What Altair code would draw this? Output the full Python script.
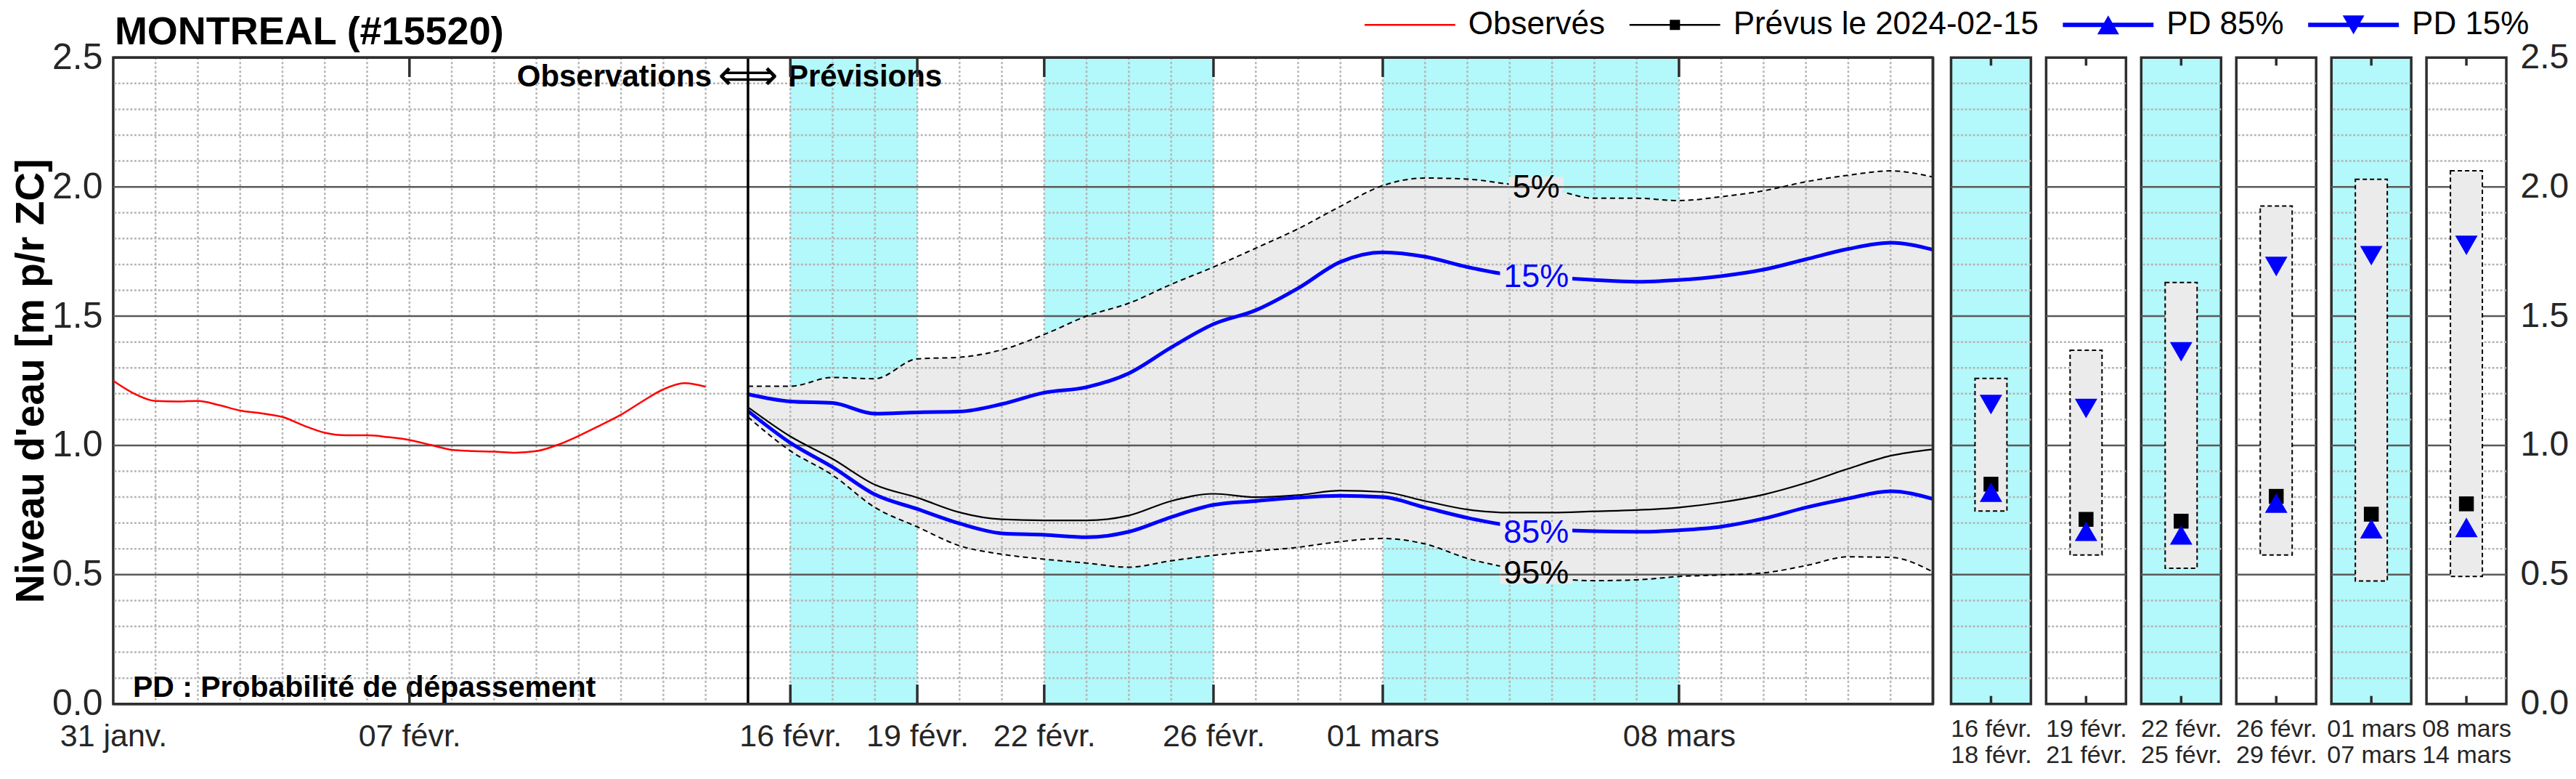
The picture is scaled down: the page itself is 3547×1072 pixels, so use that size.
import altair as alt
import pandas as pd

FONT = "Liberation Sans, Arial, Helvetica, sans-serif"
ARROW_FONT = "DejaVu Sans, Liberation Sans, sans-serif"

chart_title = "MONTREAL (#15520)"

# ---------------- observed levels (red) ----------------
obs_time = ["2024-01-31T00:00Z", "2024-01-31T12:00Z", "2024-02-01T00:00Z", "2024-02-01T12:00Z",
            "2024-02-02T00:00Z", "2024-02-02T12:00Z", "2024-02-03T00:00Z", "2024-02-03T12:00Z",
            "2024-02-04T00:00Z", "2024-02-04T12:00Z", "2024-02-05T00:00Z", "2024-02-05T12:00Z",
            "2024-02-06T00:00Z", "2024-02-06T12:00Z", "2024-02-07T00:00Z", "2024-02-07T12:00Z",
            "2024-02-08T00:00Z", "2024-02-08T12:00Z", "2024-02-09T00:00Z", "2024-02-09T12:00Z",
            "2024-02-10T00:00Z", "2024-02-10T12:00Z", "2024-02-11T00:00Z", "2024-02-11T12:00Z",
            "2024-02-12T00:00Z", "2024-02-12T12:00Z", "2024-02-13T00:00Z", "2024-02-13T12:00Z",
            "2024-02-14T00:00Z"]
obs_level = [1.250, 1.200, 1.172, 1.170, 1.172, 1.156, 1.135, 1.124, 1.110, 1.077,
             1.049, 1.039, 1.039, 1.032, 1.021, 1.002, 0.983, 0.978, 0.976, 0.972,
             0.978, 1.002, 1.037, 1.077, 1.119, 1.170, 1.217, 1.241, 1.227]

# ---------------- forecast issued 2024-02-15 ----------------
fc_date = ["2024-02-15", "2024-02-16", "2024-02-17", "2024-02-18", "2024-02-19", "2024-02-20",
           "2024-02-21", "2024-02-22", "2024-02-23", "2024-02-24", "2024-02-25", "2024-02-26",
           "2024-02-27", "2024-02-28", "2024-02-29", "2024-03-01", "2024-03-02", "2024-03-03",
           "2024-03-04", "2024-03-05", "2024-03-06", "2024-03-07", "2024-03-08", "2024-03-09",
           "2024-03-10", "2024-03-11", "2024-03-12", "2024-03-13", "2024-03-14"]
p05 = [1.229, 1.229, 1.263, 1.258, 1.335, 1.341, 1.370, 1.429, 1.500, 1.550, 1.623, 1.690,
       1.763, 1.838, 1.925, 2.005, 2.034, 2.030, 2.010, 1.990, 1.956, 1.956, 1.947, 1.962,
       1.985, 2.020, 2.045, 2.062, 2.038]
p15 = [1.198, 1.170, 1.164, 1.123, 1.128, 1.131, 1.160, 1.204, 1.225, 1.279, 1.379, 1.469,
       1.523, 1.608, 1.710, 1.747, 1.730, 1.690, 1.660, 1.650, 1.640, 1.633, 1.640, 1.655,
       1.680, 1.720, 1.760, 1.784, 1.757]
fc = [1.148, 1.035, 0.948, 0.848, 0.798, 0.741, 0.714, 0.710, 0.710, 0.729, 0.785, 0.813,
      0.800, 0.808, 0.825, 0.820, 0.785, 0.752, 0.740, 0.740, 0.745, 0.750, 0.760, 0.780,
      0.810, 0.855, 0.910, 0.960, 0.985]
p85 = [1.133, 1.010, 0.916, 0.810, 0.754, 0.698, 0.660, 0.654, 0.645, 0.666, 0.723, 0.770,
       0.785, 0.798, 0.805, 0.800, 0.760, 0.720, 0.690, 0.675, 0.668, 0.666, 0.672, 0.686,
       0.717, 0.760, 0.795, 0.823, 0.793]
p95 = [1.110, 0.979, 0.885, 0.760, 0.685, 0.612, 0.579, 0.560, 0.545, 0.529, 0.554, 0.575,
       0.591, 0.606, 0.628, 0.640, 0.619, 0.563, 0.525, 0.488, 0.477, 0.480, 0.493, 0.499,
       0.507, 0.535, 0.569, 0.567, 0.511]

forecast_issue = "2024-02-15"
band_start = ["2024-02-16", "2024-02-22", "2024-03-01"]
band_end = ["2024-02-19", "2024-02-26", "2024-03-08"]
major_dates = ["2024-01-31", "2024-02-07", "2024-02-16", "2024-02-19", "2024-02-22",
               "2024-02-26", "2024-03-01", "2024-03-08"]
domain_dates = ["2024-01-31", "2024-03-14"]
day_grid = pd.date_range("2024-02-01", "2024-03-13").strftime("%Y-%m-%d").tolist()

# curve labels
pct_text = ["5%", "15%", "85%", "95%"]
pct_level = [1.997, 1.652, 0.663, 0.506]
pct_color = ["black", "blue", "blue", "black"]
pct_at = ["2024-03-04T15:00Z"] * 4
pct_from = ["2024-03-03T23:30Z", "2024-03-03T18:30Z", "2024-03-03T18:30Z", "2024-03-03T18:30Z"]
pct_to = ["2024-03-05T06:30Z", "2024-03-05T11:30Z", "2024-03-05T11:30Z", "2024-03-05T11:30Z"]
pct_grid = [2.0, None, None, 0.5]

# ---------------- period panels ----------------
panel_from = ["16 févr.", "19 févr.", "22 févr.", "26 févr.", "01 mars", "08 mars"]
panel_to = ["18 févr.", "21 févr.", "25 févr.", "29 févr.", "07 mars", "14 mars"]
panel_max05 = [1.259, 1.368, 1.630, 1.926, 2.029, 2.062]
panel_min95 = [0.746, 0.576, 0.525, 0.576, 0.476, 0.493]
panel_p15 = [1.158, 1.143, 1.362, 1.692, 1.734, 1.774]
panel_fc = [0.850, 0.714, 0.707, 0.803, 0.734, 0.774]
panel_p85 = [0.819, 0.668, 0.654, 0.777, 0.678, 0.683]
panel_shaded = [True, False, True, False, True, False]

legend_labels = ["Observés", "Prévus le 2024-02-15", "PD 85%", "PD 15%"]

y_labels = [0.0, 0.5, 1.0, 1.5, 2.0, 2.5]
y_major = [0.5, 1.0, 1.5, 2.0]
y_minor = [0.1, 0.2, 0.3, 0.4, 0.6, 0.7, 0.8, 0.9, 1.1, 1.2, 1.3, 1.4,
           1.6, 1.7, 1.8, 1.9, 2.1, 2.2, 2.3, 2.4]
y_frame = [0.0, 2.5]

# ---------------- styles ----------------
CYAN = "#b3f8fa"
BAND = "#ebebeb"
MINOR = "#b5b5b5"
MAJOR = "#5a5a5a"
FRAME = "#2e2e2e"
BLUE = "#0000ff"
RED = "#ff0000"
LABEL = "#262626"
W, H, PW = 2507, 890, 110

legend_colors = [RED, "#000000", BLUE, BLUE]
# symbol unit = 15 px (symbolSize 900); each path runs 125 px to the right of the entry start
legend_paths = [
    "M-1,-0.08H7.33V0.08H-1Z",
    "M-1,-0.08H7.33V0.08H-1Z M2.7,-0.47H3.64V0.47H2.7Z",
    "M-1,-0.2H7.33V0.2H-1Z M3.167,-0.87L4.167,0.87H2.167Z",
    "M-1,-0.2H7.33V0.2H-1Z M3.167,0.87L2.167,-0.87H4.167Z",
]


def dt(s):
    y, m, d = (int(v) for v in s.split("-"))
    return alt.DateTime(year=y, month=m, date=d, utc=True)


XS = alt.Scale(type="utc", domain=[dt(domain_dates[0]), dt(domain_dates[1])])
YS = alt.Scale(domain=[0, 2.5], nice=False, zero=False)

x_axis = alt.Axis(
    values=[dt(s) for s in major_dates],
    labelExpr="(utcdate(datum.value) < 10 ? '0' : '') + utcdate(datum.value) + ' ' + "
              "['janv.', 'févr.', 'mars'][utcmonth(datum.value)]",
    grid=False, ticks=False, domain=False, labelFlush=False, labelOverlap=False,
    labelFont=FONT, labelFontSize=43, labelColor=LABEL, labelPadding=24, title=None)
y_axis = alt.Axis(
    values=y_labels, format=".1f", grid=False, ticks=False, domain=False,
    labelFont=FONT, labelFontSize=50, labelColor=LABEL, labelPadding=15,
    title="Niveau d'eau [m p/r ZC]", titleFont=FONT, titleFontSize=55,
    titleFontWeight="bold", titleColor="black", titlePadding=0)


def xf(field):
    return alt.X(field, type="temporal", scale=XS, axis=x_axis)


def yf(field):
    return alt.Y(field, type="quantitative", scale=YS, axis=y_axis)


def yd(v):
    return alt.YDatum(v, type="quantitative", scale=YS, axis=y_axis)


fc_df = pd.DataFrame({"date": fc_date, "p05": p05, "p15": p15, "fc": fc, "p85": p85, "p95": p95})
obs_df = pd.DataFrame({"date": obs_time, "level": obs_level})
band_df = pd.DataFrame({"start": band_start, "end": band_end})
day_df = pd.DataFrame({"date": day_grid})
tick_df = pd.DataFrame({"date": major_dates[1:]})
minor_df = pd.DataFrame({"v": y_minor})
major_df = pd.DataFrame({"v": y_major})
frame_df = pd.DataFrame({"v": y_frame})
end_df = pd.DataFrame({"date": [domain_dates[1]]})
issue_df = pd.DataFrame({"date": [forecast_issue]})
start_df = pd.DataFrame({"date": [major_dates[0]]})
pct_df = pd.DataFrame({"text": pct_text, "level": pct_level, "color": pct_color,
                       "at": pct_at, "lo": pct_from, "hi": pct_to, "grid": pct_grid})
legend_df = pd.DataFrame({"serie": legend_labels})

LEG = alt.Legend(
    title=None, orient="none", legendX=1717, legendY=-67, direction="horizontal",
    symbolSize=900, symbolStrokeWidth=0, symbolOpacity=1, symbolOffset=0,
    labelFont=FONT, labelFontSize=44, labelColor="black", labelOffset=106,
    labelLimit=2000, columnPadding=26, padding=0)

layers = [
    alt.Chart(band_df).mark_rect(color=CYAN).encode(
        x=xf("start:T"), x2="end:T", y=yd(0), y2=alt.datum(2.5)),
    alt.Chart(fc_df).mark_area(color=BAND, interpolate="monotone").encode(
        x=xf("date:T"), y=yf("p95:Q"), y2="p05:Q"),
    alt.Chart(day_df).mark_rule(color=MINOR, strokeDash=[3, 3], strokeWidth=2.5).encode(
        x=xf("date:T")),
    alt.Chart(minor_df).mark_rule(color=MINOR, strokeDash=[3, 2.5], strokeWidth=2.5).encode(
        y=yf("v:Q")),
    alt.Chart(major_df).mark_rule(color=MAJOR, strokeWidth=2.5).encode(y=yf("v:Q")),
    alt.Chart(fc_df).mark_line(color="black", strokeDash=[7, 5], strokeWidth=2,
                               interpolate="monotone").encode(x=xf("date:T"), y=yf("p05:Q")),
    alt.Chart(fc_df).mark_line(color="black", strokeDash=[7, 5], strokeWidth=2,
                               interpolate="monotone").encode(x=xf("date:T"), y=yf("p95:Q")),
    alt.Chart(fc_df).mark_line(color="black", strokeWidth=2.2,
                               interpolate="monotone").encode(x=xf("date:T"), y=yf("fc:Q")),
    alt.Chart(fc_df).mark_line(color=BLUE, strokeWidth=5,
                               interpolate="monotone").encode(x=xf("date:T"), y=yf("p85:Q")),
    alt.Chart(fc_df).mark_line(color=BLUE, strokeWidth=5,
                               interpolate="monotone").encode(x=xf("date:T"), y=yf("p15:Q")),
    alt.Chart(obs_df).mark_line(color=RED, strokeWidth=2.5,
                                interpolate="monotone").encode(x=xf("date:T"), y=yf("level:Q")),
    alt.Chart(issue_df).mark_rule(color="black", strokeWidth=3.5).encode(x=xf("date:T")),
    # gaps in curves behind the percentile labels
    alt.Chart(pct_df).transform_calculate(
        ylo="datum.level - 0.042", yhi="datum.level + 0.042"
    ).mark_rect(color=BAND).encode(x=xf("lo:T"), x2="hi:T", y=yf("ylo:Q"), y2="yhi:Q"),
    alt.Chart(pct_df).transform_filter("isValid(datum.grid)").mark_rule(
        color=MAJOR, strokeWidth=2.5).encode(x=xf("lo:T"), x2="hi:T", y=yf("grid:Q")),
    alt.Chart(pct_df).transform_filter("datum.color == 'black'").mark_text(
        font=FONT, fontSize=45, color="black", baseline="middle").encode(
        x=xf("at:T"), y=yf("level:Q"), text="text:N"),
    alt.Chart(pct_df).transform_filter("datum.color == 'blue'").mark_text(
        font=FONT, fontSize=45, color=BLUE, baseline="middle").encode(
        x=xf("at:T"), y=yf("level:Q"), text="text:N"),
    # annotations
    alt.Chart(issue_df).mark_text(font=FONT, fontSize=42, fontWeight="bold", align="right",
                                  baseline="middle", dx=-50, color="black").encode(
        x=xf("date:T"), y=yd(2.424), text=alt.value("Observations")),
    alt.Chart(issue_df).mark_text(font=ARROW_FONT, fontSize=58, align="center",
                                  baseline="middle", color="black").encode(
        x=xf("date:T"), y=yd(2.424), text=alt.value("⟺")),
    alt.Chart(issue_df).mark_text(font=FONT, fontSize=42, fontWeight="bold", align="left",
                                  baseline="middle", dx=55, color="black").encode(
        x=xf("date:T"), y=yd(2.424), text=alt.value("Prévisions")),
    alt.Chart(start_df).mark_text(font=FONT, fontSize=41, fontWeight="bold", align="left",
                                  baseline="alphabetic", dx=27, color="black").encode(
        x=xf("date:T"), y=yd(0.028), text=alt.value("PD : Probabilité de dépassement")),
    # chart title, above the top-left corner of the plot
    alt.Chart(start_df).mark_text(font=FONT, fontSize=54, fontWeight="bold", align="left",
                                  baseline="alphabetic", dx=2, dy=-18, color="black").encode(
        x=xf("date:T"), y=yd(2.5), text=alt.value(chart_title)),
    # inner ticks
    alt.Chart(tick_df).mark_rule(color=FRAME, strokeWidth=3.5).encode(
        x=xf("date:T"), y=yd(0), y2=alt.datum(0.075)),
    alt.Chart(tick_df).mark_rule(color=FRAME, strokeWidth=3.5).encode(
        x=xf("date:T"), y=yd(2.425), y2=alt.datum(2.5)),
    # frame over fills
    alt.Chart(frame_df).mark_rule(color=FRAME, strokeWidth=3.5).encode(y=yf("v:Q")),
    alt.Chart(end_df).mark_rule(color=FRAME, strokeWidth=3.5).encode(x=xf("date:T")),
    # legend carrier
    alt.Chart(legend_df).mark_point(filled=True, opacity=0).encode(
        color=alt.Color("serie:N", scale=alt.Scale(domain=legend_labels, range=legend_colors),
                        legend=LEG),
        shape=alt.Shape("serie:N", scale=alt.Scale(domain=legend_labels, range=legend_paths),
                        legend=LEG)),
]

main = alt.layer(*layers).properties(width=W, height=H)


def panel(i):
    XP = alt.Scale(domain=[0, 1], nice=False, zero=False)
    YP = alt.Scale(domain=[0, 2.5], nice=False, zero=False)
    pdf = pd.DataFrame({"lo": [panel_min95[i]], "hi": [panel_max05[i]], "p15": [panel_p15[i]],
                        "fc": [panel_fc[i]], "p85": [panel_p85[i]]})
    xa = alt.Axis(values=[0.5], labelExpr=f"['{panel_from[i]}', '{panel_to[i]}']",
                  ticks=False, domain=False, grid=False, labelFlush=False,
                  labelFont=FONT, labelFontSize=34, labelColor=LABEL, labelPadding=18,
                  labelLineHeight=36, title=None)
    if i == len(panel_from) - 1:
        ya = alt.Axis(orient="right", values=y_labels, format=".1f", ticks=False, domain=False,
                      grid=False, labelFont=FONT, labelFontSize=48, labelColor=LABEL,
                      labelPadding=19, title=None)
    else:
        ya = None
    py = lambda f: alt.Y(f, type="quantitative", scale=YP, axis=ya)
    pyd = lambda v: alt.YDatum(v, type="quantitative", scale=YP, axis=ya)
    px = lambda v: alt.XDatum(v, scale=XP, type="quantitative", axis=xa)
    lay = [
        alt.Chart(minor_df).mark_rule(color=MINOR, strokeDash=[3, 2.5], strokeWidth=2.5).encode(
            y=py("v:Q")),
        alt.Chart(major_df).mark_rule(color=MAJOR, strokeWidth=2.5).encode(y=py("v:Q")),
        alt.Chart(pdf).mark_rect(fill=BAND, stroke="black", strokeDash=[6, 4],
                                 strokeWidth=2).encode(
            x=px(0.3), x2=alt.datum(0.7), y=py("lo:Q"), y2="hi:Q"),
        alt.Chart(pdf).mark_point(shape="square", filled=True, color="black", size=420,
                                  opacity=1).encode(x=px(0.5), y=py("fc:Q")),
        alt.Chart(pdf).mark_point(shape="triangle-up", filled=True, color=BLUE, size=960,
                                  opacity=1).encode(x=px(0.5), y=py("p85:Q")),
        alt.Chart(pdf).mark_point(shape="triangle-down", filled=True, color=BLUE, size=960,
                                  opacity=1).encode(x=px(0.5), y=py("p15:Q")),
        alt.Chart(pdf).mark_rule(color=FRAME, strokeWidth=3.5).encode(
            x=px(0.5), y=pyd(0), y2=alt.datum(0.031)),
        alt.Chart(pdf).mark_rule(color=FRAME, strokeWidth=3.5).encode(
            x=px(0.5), y=pyd(2.469), y2=alt.datum(2.5)),
    ]
    return alt.layer(*lay).properties(
        width=PW, height=H,
        view=alt.ViewBackground(fill=CYAN if panel_shaded[i] else "white"))


panels = alt.hconcat(*[panel(i) for i in range(len(panel_from))], spacing=21, bounds="flush")

chart = alt.hconcat(main, panels, spacing=25, bounds="flush").properties(
    padding={"left": 5, "top": 4, "right": 0, "bottom": 0}, background="white"
).configure(font=FONT).configure_view(stroke=FRAME, strokeWidth=3.5)

chart.save("out.html", embed_options={"renderer": "svg", "actions": False})
